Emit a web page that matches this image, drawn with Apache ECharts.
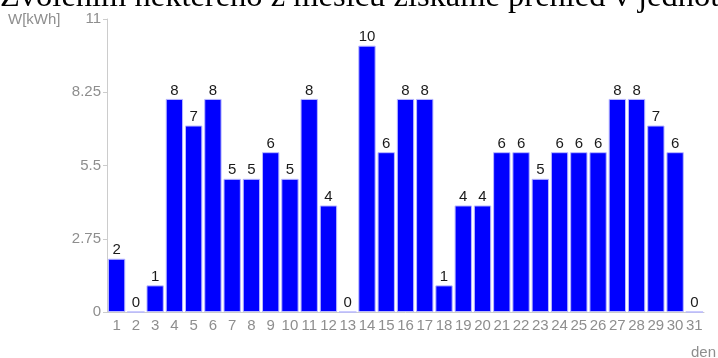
<!DOCTYPE html>
<html>
<head>
<meta charset="utf-8">
<script src="https://cdn.jsdelivr.net/npm/echarts@6/dist/echarts.min.js"></script>
<style>
  html, body { margin: 0; padding: 0; background: #fff; }
  #chart { width: 718px; height: 358px; }
</style>
</head>
<body>
<div id="chart"></div>
<script>
  const days = [];
  for (let d = 1; d <= 31; d++) days.push(String(d));
  const energy = [2, 0, 1, 8, 7, 8, 5, 5, 6, 5, 8, 4, 0, 10, 6, 8, 8, 1, 4, 4, 6, 6, 5, 6, 6, 6, 8, 8, 7, 6, 0];
  const titleText = "Zvolením některého z měsíců získáme přehled v jednotlivých dnech";

  const myChart = echarts.init(document.getElementById("chart"));
  const grey = "#8e8e8e";
  const sans = "'Liberation Sans', Arial, sans-serif";
  const option = {
    animation: false,
    grid: { left: 107, right: 14, top: 19, bottom: 46 },
    graphic: [
      {
        type: "text", left: 0, top: -19,
        style: { text: titleText, font: "32.5px 'Liberation Serif', serif", fill: "#000" }
      },
      {
        type: "text", left: 8, top: 12,
        style: { text: "W[kWh]", font: "15px " + sans, fill: grey }
      },
      {
        type: "text", left: 691, top: 345,
        style: { text: "den", font: "15px " + sans, fill: grey }
      }
    ],
    xAxis: {
      type: "category",
      data: days,
      axisLine: { lineStyle: { color: "#cccccc" } },
      axisTick: { alignWithLabel: true, length: 4, lineStyle: { color: "#cccccc" } },
      axisLabel: { interval: 0, color: grey, fontSize: 15, margin: 6, fontFamily: "Liberation Sans" }
    },
    yAxis: {
      type: "value",
      min: 0, max: 11, interval: 2.75,
      splitLine: { show: false },
      axisLine: { show: true, lineStyle: { color: "#cccccc" } },
      axisTick: { show: true, length: 4, lineStyle: { color: "#cccccc" } },
      axisLabel: { color: grey, fontSize: 15, margin: 6, fontFamily: "Liberation Sans" }
    },
    series: [
      {
        type: "bar",
        data: energy,
        barCategoryGap: "10%",
        itemStyle: { color: "#0000ff", borderColor: "#b8b8ff", borderWidth: 1 },
        label: {
          show: true, position: "top", distance: 1,
          color: "#1a1a1a", fontSize: 15, fontFamily: "Liberation Sans"
        }
      }
    ]
  };
  myChart.setOption(option);
</script>
</body>
</html>
